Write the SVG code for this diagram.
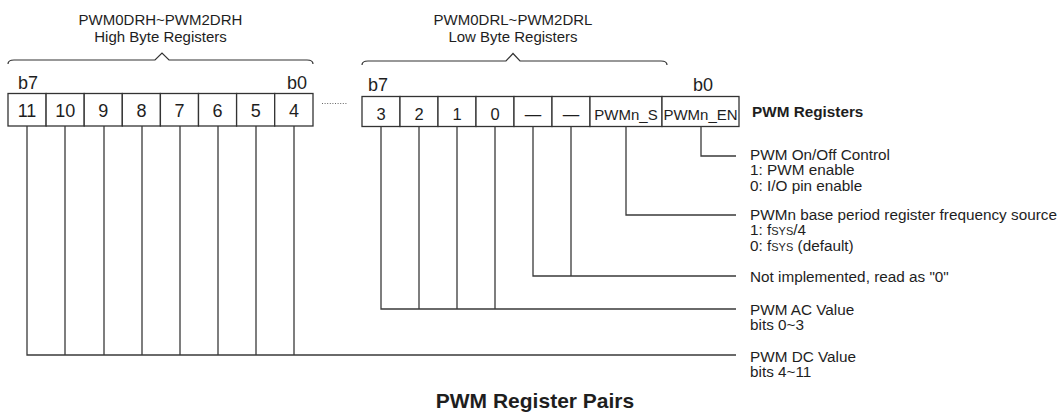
<svg xmlns="http://www.w3.org/2000/svg" width="1059" height="412" viewBox="0 0 1059 412">
<style>
text{font-family:"Liberation Sans",Arial,sans-serif;fill:#1e1e1e}
.hd{font-size:15px;text-anchor:middle}
.bn{font-family:"Liberation Sans Narrow","Liberation Sans",Arial,sans-serif;font-size:18px}
.hi{font-family:"Liberation Sans Narrow","Liberation Sans",Arial,sans-serif;font-size:18px;text-anchor:middle}
.lo{font-size:16.5px;text-anchor:middle}
.lw{font-size:15px;text-anchor:middle}
.ds{font-size:15.3px}
.sm{font-size:11px}
.bd{font-weight:bold}
.cell{fill:#fff;stroke:#333;stroke-width:1.3}
.br{fill:none;stroke:#333;stroke-width:1.2}
.ln{fill:none;stroke:#3a3a3a;stroke-width:1.3}
</style>
<rect width="1059" height="412" fill="#fff"/>
<g id="high-register">
<text class="hd" x="160.5" y="25">PWM0DRH~PWM2DRH</text>
<text class="hd" x="160.5" y="42">High Byte Registers</text>
<path class="br" d="M8,64 Q8,60 14,60 L155,60 L162,53 L169,60 L307,60 Q313,60 313,64"/>
<text class="bn" x="18" y="89">b7</text>
<text class="bn" x="287" y="89">b0</text>
<rect class="cell" x="8" y="93.5" width="38.1" height="32.5"/>
<rect class="cell" x="46.1" y="93.5" width="38.1" height="32.5"/>
<rect class="cell" x="84.2" y="93.5" width="38.1" height="32.5"/>
<rect class="cell" x="122.3" y="93.5" width="38.1" height="32.5"/>
<rect class="cell" x="160.4" y="93.5" width="38.1" height="32.5"/>
<rect class="cell" x="198.5" y="93.5" width="38.1" height="32.5"/>
<rect class="cell" x="236.6" y="93.5" width="38.1" height="32.5"/>
<rect class="cell" x="274.7" y="93.5" width="38.3" height="32.5"/>
<text class="hi" x="27" y="117">11</text>
<text class="hi" x="65.2" y="117">10</text>
<text class="hi" x="103.3" y="117">9</text>
<text class="hi" x="141.4" y="117">8</text>
<text class="hi" x="179.5" y="117">7</text>
<text class="hi" x="217.6" y="117">6</text>
<text class="hi" x="255.7" y="117">5</text>
<text class="hi" x="293.9" y="117">4</text>
</g>
<g id="ellipsis">
<line x1="322" y1="103.5" x2="348" y2="103.5" stroke="#666" stroke-width="1" stroke-dasharray="1 1.6"/>
</g>
<g id="low-register">
<text class="hd" x="513" y="25">PWM0DRL~PWM2DRL</text>
<text class="hd" x="513" y="42">Low Byte Registers</text>
<path class="br" d="M362,65 Q362,61 368,61 L506,61 L513,53.5 L520,61 L661,61 Q667,61 667,65"/>
<text class="bn" x="368" y="91">b7</text>
<text class="bn" x="693" y="91">b0</text>
<rect class="cell" x="362" y="96.5" width="38" height="30"/>
<rect class="cell" x="400" y="96.5" width="38" height="30"/>
<rect class="cell" x="438" y="96.5" width="38" height="30"/>
<rect class="cell" x="476" y="96.5" width="38" height="30"/>
<rect class="cell" x="514" y="96.5" width="38" height="30"/>
<rect class="cell" x="552" y="96.5" width="38" height="30"/>
<rect class="cell" x="590" y="96.5" width="72" height="30"/>
<rect class="cell" x="662" y="96.5" width="77" height="30"/>
<text class="lo" x="381" y="119.5">3</text>
<text class="lo" x="419" y="119.5">2</text>
<text class="lo" x="457" y="119.5">1</text>
<text class="lo" x="495" y="119.5">0</text>
<text class="lo" x="533" y="119.5">—</text>
<text class="lo" x="571" y="119.5">—</text>
<text class="lw" x="626" y="119.5">PWMn_S</text>
<text class="lw" x="700.5" y="119.5">PWMn_EN</text>
</g>
<g id="label-pwm-registers">
<text class="ds bd" x="752" y="116.5">PWM Registers</text>
</g>
<g id="connectors">
<path class="ln" d="M701,126.5 V156 H736"/>
<path class="ln" d="M626,126.5 V215 H736"/>
<path class="ln" d="M571,126.5 V276 M533,126.5 V276 H736"/>
<path class="ln" d="M495,126.5 V309 M457,126.5 V309 M419,126.5 V309 M381,126.5 V309 H736"/>
<path class="ln" d="M294,126 V355 M256,126 V355 M218,126 V355 M180,126 V355 M142,126 V355 M104,126 V355 M65,126 V355 M27,126 V355 H736"/>
</g>
<g id="desc-en">
<text class="ds" x="750" y="160">PWM On/Off Control</text>
<text class="ds" x="750" y="175.3">1: PWM enable</text>
<text class="ds" x="750" y="190.6">0: I/O pin enable</text>
</g>
<g id="desc-s">
<text class="ds" x="750" y="220">PWMn base period register frequency source</text>
<text class="ds" x="750" y="235.3">1: f<tspan class="sm">SYS</tspan>/4</text>
<text class="ds" x="750" y="250.6">0: f<tspan class="sm">SYS</tspan> (default)</text>
</g>
<g id="desc-ni">
<text class="ds" x="750" y="281.5">Not implemented, read as "0"</text>
</g>
<g id="desc-ac">
<text class="ds" x="750" y="315">PWM AC Value</text>
<text class="ds" x="750" y="330.3">bits 0~3</text>
</g>
<g id="desc-dc">
<text class="ds" x="750" y="361.5">PWM DC Value</text>
<text class="ds" x="750" y="376.8">bits 4~11</text>
</g>
<g id="title">
<text class="bd" x="535" y="408" font-size="21" text-anchor="middle">PWM Register Pairs</text>
</g>
</svg>
